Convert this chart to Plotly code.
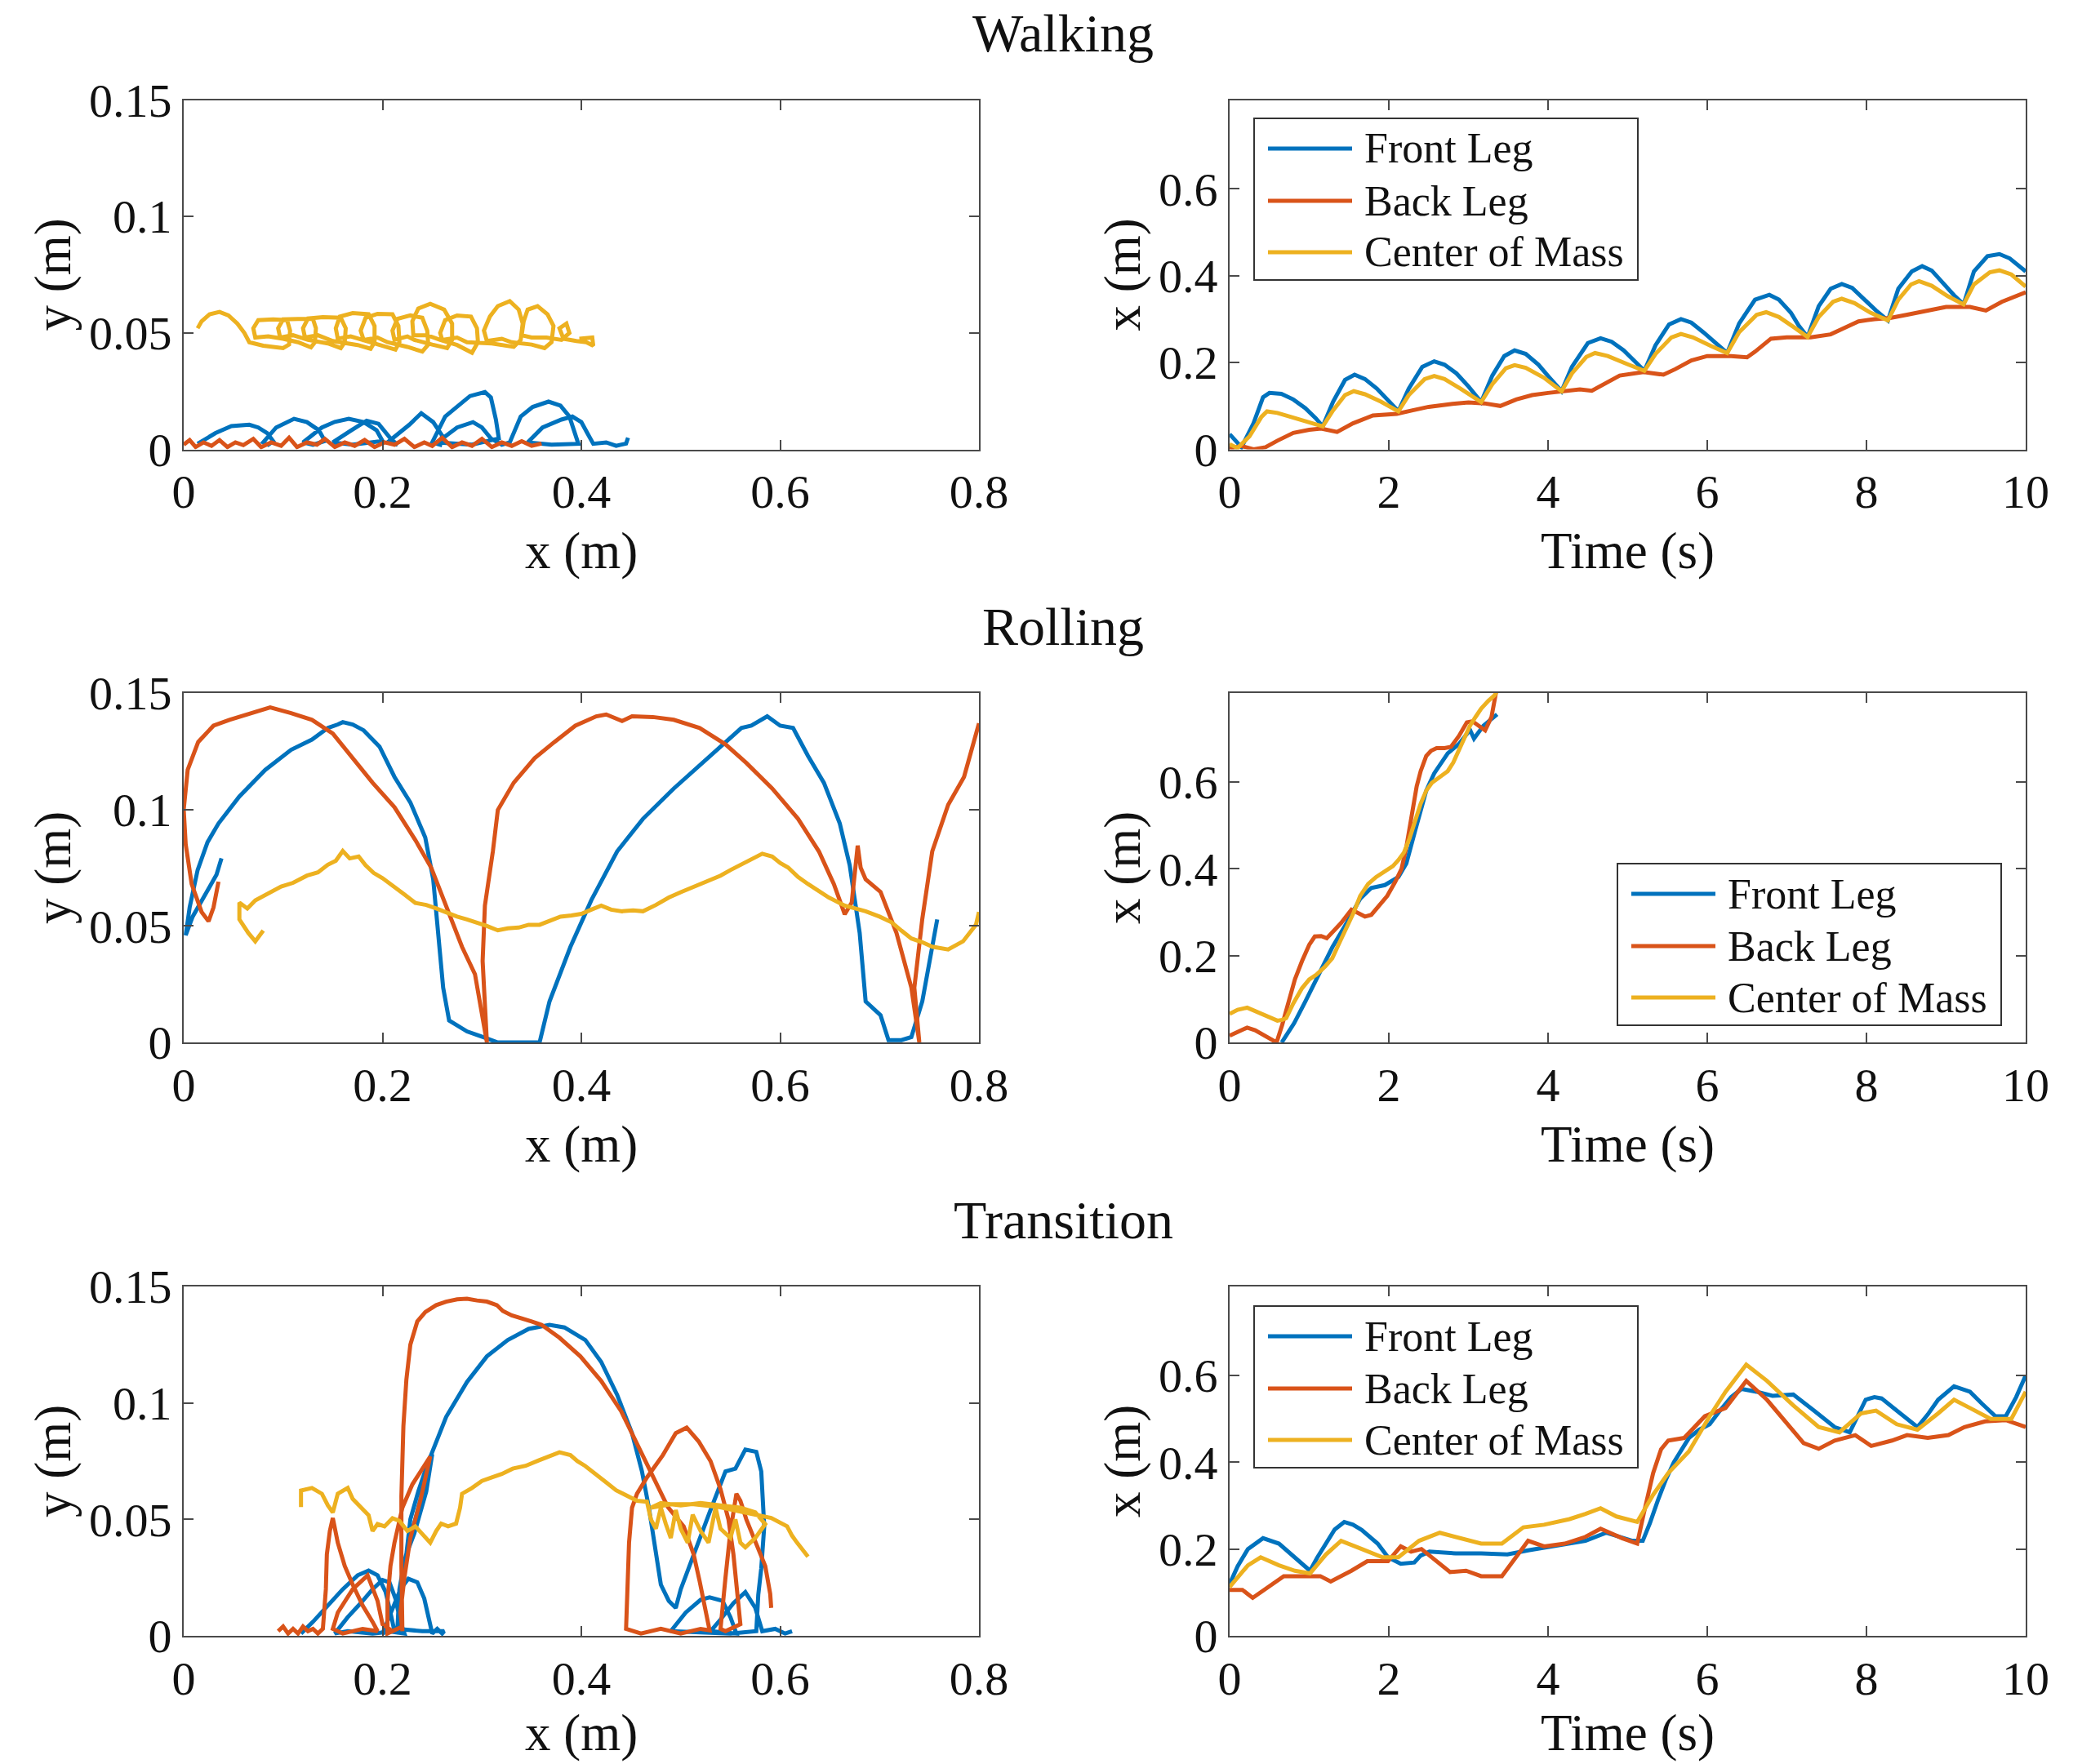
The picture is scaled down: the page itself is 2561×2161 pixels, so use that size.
import plotly.graph_objects as go

# ---------------- data ----------------
SERIES = ["Front Leg", "Back Leg", "Center of Mass"]
COLORS = ["#0072BD", "#D95319", "#EDB120"]
ROW_TITLES = ["Walking", "Rolling", "Transition"]

XY_XTICKS = [0, 0.2, 0.4, 0.6, 0.8]
XY_XTICKTEXT = ["0", "0.2", "0.4", "0.6", "0.8"]
XY_YTICKS = [0, 0.05, 0.1, 0.15]
XY_YTICKTEXT = ["0", "0.05", "0.1", "0.15"]
T_XTICKS = [0, 2, 4, 6, 8, 10]
T_XTICKTEXT = ["0", "2", "4", "6", "8", "10"]
T_YTICKS = [0, 0.2, 0.4, 0.6]
T_YTICKTEXT = ["0", "0.2", "0.4", "0.6"]

# --- Walking: y vs x trajectories
WALK_XY_FRONT = [
    (0.014, 0.0024), (0.032, 0.007), (0.048, 0.010), (0.066, 0.0106), (0.075, 0.0094), (0.084, 0.007), (0.09, 0.0035),
    (0.085, 0.002), (0.08, 0.003),
    (0.093, 0.0094), (0.111, 0.0131), (0.124, 0.0117), (0.136, 0.0082), (0.142, 0.0036),
    (0.13, 0.002), (0.12, 0.003),
    (0.139, 0.0094), (0.152, 0.0118), (0.166, 0.0131), (0.181, 0.0117), (0.194, 0.0082), (0.2, 0.0036),
    (0.17, 0.002), (0.15, 0.003),
    (0.168, 0.008), (0.184, 0.0123), (0.196, 0.011), (0.208, 0.0047),
    (0.215, 0.002), (0.205, 0.003),
    (0.227, 0.0106), (0.239, 0.0155), (0.251, 0.0117), (0.26, 0.0059),
    (0.258, 0.002), (0.25, 0.003),
    (0.263, 0.0141), (0.276, 0.0188), (0.288, 0.0229), (0.303, 0.0246), (0.309, 0.0223), (0.314, 0.0129), (0.317, 0.0047),
    (0.29, 0.002), (0.255, 0.003),
    (0.275, 0.0094), (0.291, 0.0117), (0.3, 0.0094), (0.309, 0.0047),
    (0.32, 0.002), (0.328, 0.003),
    (0.339, 0.0141), (0.351, 0.0182), (0.367, 0.0205), (0.379, 0.0188), (0.388, 0.0141), (0.394, 0.0071), (0.397, 0.0024),
    (0.37, 0.002), (0.346, 0.003),
    (0.361, 0.0094), (0.38, 0.0128), (0.391, 0.0141), (0.4, 0.0117), (0.406, 0.007), (0.412, 0.0024),
    (0.425, 0.003), (0.435, 0.0015), (0.445, 0.0025), (0.447, 0.005),
]
WALK_XY_BACK = [
    (0.0, 0.002), (0.006, 0.004), (0.012, 0.001), (0.02, 0.003), (0.028, 0.0015), (0.036, 0.004), (0.044, 0.001),
    (0.052, 0.003), (0.06, 0.0018), (0.07, 0.0045), (0.078, 0.001), (0.088, 0.003), (0.098, 0.0015), (0.106, 0.005),
    (0.114, 0.001), (0.124, 0.003), (0.134, 0.002), (0.142, 0.0045), (0.152, 0.001), (0.162, 0.003), (0.172, 0.0015),
    (0.182, 0.004), (0.192, 0.001), (0.202, 0.003), (0.212, 0.002), (0.222, 0.0045), (0.232, 0.001), (0.242, 0.003),
    (0.25, 0.0015), (0.26, 0.005), (0.27, 0.001), (0.28, 0.003), (0.29, 0.0015), (0.3, 0.0045), (0.31, 0.001),
    (0.32, 0.003), (0.33, 0.0015), (0.34, 0.0035), (0.35, 0.0015), (0.36, 0.0025),
]
WALK_XY_COM = [
    (0.014, 0.052), (0.018, 0.055), (0.026, 0.058), (0.036, 0.059), (0.045, 0.0575), (0.054, 0.054), (0.061, 0.05), (0.066, 0.046),
    (0.08, 0.0445), (0.1, 0.0435), (0.106, 0.045), (0.107, 0.051), (0.104, 0.0555), (0.09, 0.0558), (0.075, 0.0555), (0.07, 0.052), (0.072, 0.048), (0.085, 0.0485),
    (0.1, 0.0475), (0.115, 0.046), (0.128, 0.0438), (0.132, 0.046), (0.133, 0.052), (0.13, 0.056), (0.115, 0.056), (0.1, 0.0558), (0.095, 0.052), (0.097, 0.048), (0.11, 0.049),
    (0.125, 0.047), (0.145, 0.0455), (0.158, 0.0435), (0.162, 0.046), (0.163, 0.052), (0.158, 0.0565), (0.14, 0.0568), (0.125, 0.0562), (0.12, 0.052), (0.122, 0.048), (0.135, 0.049),
    (0.15, 0.0465), (0.175, 0.0448), (0.188, 0.0432), (0.192, 0.046), (0.192, 0.053), (0.186, 0.058), (0.17, 0.0585), (0.157, 0.057), (0.153, 0.052), (0.155, 0.0475), (0.168, 0.0485),
    (0.18, 0.047), (0.2, 0.0445), (0.213, 0.0428), (0.217, 0.046), (0.216, 0.053), (0.21, 0.058), (0.195, 0.0582), (0.183, 0.0565), (0.178, 0.051), (0.181, 0.047), (0.195, 0.048),
    (0.205, 0.046), (0.225, 0.044), (0.24, 0.042), (0.246, 0.045), (0.245, 0.051), (0.24, 0.0565), (0.228, 0.0575), (0.215, 0.056), (0.21, 0.051), (0.212, 0.047), (0.225, 0.0485),
    (0.232, 0.047), (0.25, 0.045), (0.265, 0.0435), (0.27, 0.047), (0.27, 0.054), (0.262, 0.06), (0.248, 0.0625), (0.236, 0.0605), (0.23, 0.055), (0.231, 0.049), (0.245, 0.049),
    (0.258, 0.047), (0.275, 0.0448), (0.29, 0.0415), (0.296, 0.046), (0.295, 0.052), (0.289, 0.057), (0.275, 0.0575), (0.263, 0.0555), (0.258, 0.05), (0.26, 0.047), (0.275, 0.048),
    (0.285, 0.046), (0.31, 0.0455), (0.332, 0.044), (0.339, 0.047), (0.341, 0.054), (0.337, 0.06), (0.328, 0.0636), (0.316, 0.0615), (0.308, 0.057), (0.302, 0.051), (0.305, 0.0465), (0.32, 0.0475),
    (0.33, 0.046), (0.35, 0.045), (0.363, 0.0435), (0.37, 0.046), (0.372, 0.053), (0.366, 0.058), (0.356, 0.0615), (0.346, 0.06), (0.342, 0.055), (0.34, 0.049), (0.35, 0.048),
    (0.365, 0.048), (0.38, 0.047), (0.388, 0.05), (0.385, 0.054), (0.378, 0.052), (0.382, 0.0475), (0.395, 0.0465), (0.405, 0.046), (0.412, 0.0445), (0.411, 0.048), (0.398, 0.0475),
]

# --- Walking: x vs time
WALK_T_FRONT = [
    (0, 0.035), (0.15, 0.005), (0.3, 0.06), (0.42, 0.12), (0.5, 0.13), (0.65, 0.128), (0.8, 0.115), (0.95, 0.095), (1.08, 0.072), (1.17, 0.053),
    (1.3, 0.11), (1.45, 0.16), (1.57, 0.172), (1.7, 0.162), (1.85, 0.14), (2.0, 0.112), (2.12, 0.088),
    (2.25, 0.14), (2.42, 0.19), (2.57, 0.203), (2.7, 0.195), (2.85, 0.175), (3.0, 0.145), (3.16, 0.109),
    (3.3, 0.17), (3.45, 0.215), (3.58, 0.228), (3.72, 0.22), (3.88, 0.195), (4.02, 0.165), (4.17, 0.134),
    (4.3, 0.19), (4.5, 0.245), (4.66, 0.256), (4.8, 0.248), (4.95, 0.228), (5.08, 0.205), (5.21, 0.181),
    (5.35, 0.24), (5.52, 0.288), (5.67, 0.300), (5.8, 0.292), (5.95, 0.27), (6.1, 0.245), (6.25, 0.222),
    (6.4, 0.29), (6.6, 0.345), (6.78, 0.356), (6.9, 0.345), (7.05, 0.315), (7.15, 0.285), (7.26, 0.259),
    (7.4, 0.33), (7.55, 0.37), (7.69, 0.381), (7.82, 0.372), (7.97, 0.345), (8.12, 0.32), (8.27, 0.297),
    (8.4, 0.37), (8.57, 0.41), (8.70, 0.422), (8.82, 0.412), (8.95, 0.385), (9.1, 0.355), (9.22, 0.334),
    (9.35, 0.41), (9.52, 0.445), (9.67, 0.45), (9.8, 0.44), (9.9, 0.425), (10.0, 0.41),
]
WALK_T_BACK = [
    (0, 0.002), (0.15, 0.008), (0.3, 0.0), (0.45, 0.005), (0.6, 0.02), (0.8, 0.038), (1.0, 0.045), (1.15, 0.048), (1.35, 0.04),
    (1.55, 0.06), (1.8, 0.078), (2.1, 0.082), (2.3, 0.09), (2.5, 0.098), (2.8, 0.105), (3.0, 0.108), (3.2, 0.106), (3.4, 0.1),
    (3.6, 0.115), (3.8, 0.125), (4.0, 0.13), (4.2, 0.133), (4.4, 0.138), (4.55, 0.135), (4.7, 0.15), (4.9, 0.17), (5.2, 0.178),
    (5.45, 0.172), (5.6, 0.185), (5.8, 0.205), (6.0, 0.215), (6.3, 0.215), (6.5, 0.212), (6.6, 0.225), (6.8, 0.255), (7.0, 0.258),
    (7.3, 0.258), (7.55, 0.265), (7.7, 0.278), (7.9, 0.295), (8.1, 0.3), (8.3, 0.303), (8.5, 0.31), (8.8, 0.322), (9.0, 0.328),
    (9.3, 0.328), (9.5, 0.32), (9.7, 0.34), (9.85, 0.352), (10, 0.362),
]
WALK_T_COM = [
    (0, 0.012), (0.1, 0.003), (0.25, 0.03), (0.4, 0.075), (0.47, 0.0875), (0.6, 0.084), (0.8, 0.073), (1.0, 0.062), (1.17, 0.053),
    (1.3, 0.09), (1.45, 0.125), (1.56, 0.134), (1.7, 0.127), (1.9, 0.11), (2.12, 0.0875),
    (2.25, 0.125), (2.45, 0.162), (2.57, 0.169), (2.7, 0.162), (2.9, 0.14), (3.16, 0.109),
    (3.3, 0.15), (3.47, 0.187), (3.58, 0.194), (3.72, 0.188), (3.95, 0.165), (4.17, 0.134),
    (4.3, 0.175), (4.48, 0.213), (4.59, 0.222), (4.75, 0.215), (5.0, 0.196), (5.21, 0.181),
    (5.35, 0.22), (5.55, 0.258), (5.67, 0.266), (5.82, 0.258), (6.05, 0.238), (6.25, 0.222),
    (6.4, 0.27), (6.62, 0.31), (6.74, 0.316), (6.9, 0.305), (7.1, 0.28), (7.26, 0.259),
    (7.4, 0.305), (7.58, 0.34), (7.69, 0.347), (7.85, 0.337), (8.05, 0.315), (8.27, 0.297),
    (8.4, 0.345), (8.56, 0.38), (8.66, 0.3875), (8.82, 0.377), (9.02, 0.353), (9.22, 0.334),
    (9.35, 0.38), (9.55, 0.408), (9.67, 0.4125), (9.82, 0.403), (10.0, 0.375),
]

# --- Rolling: y vs x trajectories
ROLL_XY_FRONT = [
    (0.038, 0.079), (0.033, 0.072), (0.025, 0.066), (0.017, 0.06), (0.009, 0.054), (0.002, 0.046),
    (0.006, 0.058), (0.014, 0.074), (0.024, 0.086), (0.035, 0.094), (0.056, 0.1056), (0.082, 0.117), (0.108, 0.1256),
    (0.129, 0.130), (0.145, 0.135), (0.155, 0.1365), (0.16, 0.1375), (0.17, 0.1365), (0.181, 0.134), (0.197, 0.127),
    (0.212, 0.114), (0.228, 0.103), (0.243, 0.088), (0.251, 0.070), (0.256, 0.047), (0.261, 0.0235), (0.267, 0.0094),
    (0.285, 0.0047), (0.301, 0.0023), (0.316, 0.0), (0.358, 0.0), (0.368, 0.0176), (0.389, 0.041), (0.41, 0.061),
    (0.436, 0.082), (0.462, 0.096), (0.493, 0.109), (0.53, 0.123), (0.561, 0.135), (0.571, 0.136), (0.587, 0.14),
    (0.6, 0.136), (0.613, 0.135), (0.628, 0.123), (0.644, 0.1115), (0.66, 0.094), (0.67, 0.076), (0.68, 0.047),
    (0.686, 0.0176), (0.701, 0.0117), (0.709, 0.001), (0.722, 0.001), (0.732, 0.0023), (0.743, 0.0176), (0.758, 0.0528),
]
ROLL_XY_BACK = [
    (0.035, 0.069), (0.03, 0.058), (0.025, 0.052), (0.018, 0.056), (0.008, 0.068), (0.002, 0.085), (0.0, 0.1), (0.004, 0.117),
    (0.0146, 0.129), (0.03, 0.136), (0.046, 0.1385), (0.067, 0.1414), (0.087, 0.1438), (0.108, 0.1414), (0.129, 0.1385),
    (0.15, 0.1326), (0.17, 0.122), (0.19, 0.1115), (0.212, 0.101), (0.233, 0.0869), (0.249, 0.075), (0.264, 0.0587),
    (0.28, 0.041), (0.293, 0.0293), (0.3, 0.0117), (0.305, 0.0),
    (0.3007, 0.035), (0.303, 0.0587), (0.311, 0.082), (0.316, 0.0998), (0.332, 0.1115), (0.353, 0.122), (0.373, 0.129),
    (0.394, 0.136), (0.415, 0.140), (0.425, 0.1408), (0.441, 0.138), (0.451, 0.140), (0.472, 0.1397), (0.493, 0.1385),
    (0.519, 0.135), (0.545, 0.128), (0.566, 0.12), (0.592, 0.109), (0.618, 0.096), (0.639, 0.082), (0.654, 0.068),
    (0.665, 0.055), (0.672, 0.06), (0.678, 0.0845), (0.681, 0.075), (0.686, 0.07), (0.701, 0.0646), (0.717, 0.047),
    (0.732, 0.0235), (0.74, 0.0),
    (0.735, 0.0235), (0.743, 0.053), (0.753, 0.082), (0.769, 0.102), (0.785, 0.114), (0.8, 0.137),
]
ROLL_XY_COM = [
    (0.08, 0.048), (0.072, 0.0434), (0.065, 0.047), (0.061, 0.0493), (0.056, 0.0528), (0.056, 0.06), (0.064, 0.0575),
    (0.072, 0.061), (0.085, 0.064), (0.098, 0.0669), (0.11, 0.0685), (0.124, 0.0716), (0.135, 0.073), (0.145, 0.0763),
    (0.153, 0.078), (0.16, 0.0822), (0.167, 0.079), (0.176, 0.0798), (0.183, 0.076), (0.191, 0.0728), (0.2, 0.0705),
    (0.212, 0.0669), (0.222, 0.0635), (0.233, 0.0599), (0.244, 0.059), (0.254, 0.0575), (0.265, 0.0555), (0.275, 0.054),
    (0.285, 0.0528), (0.295, 0.0516), (0.305, 0.05), (0.316, 0.0481), (0.326, 0.049), (0.337, 0.0493), (0.347, 0.0505),
    (0.358, 0.0505), (0.368, 0.052), (0.379, 0.054), (0.39, 0.0545), (0.4, 0.0552), (0.41, 0.057), (0.42, 0.0587),
    (0.43, 0.057), (0.441, 0.0563), (0.452, 0.0567), (0.462, 0.0563), (0.475, 0.059), (0.488, 0.0622), (0.5, 0.0645),
    (0.514, 0.0669), (0.527, 0.069), (0.54, 0.0716), (0.55, 0.074), (0.561, 0.0763), (0.572, 0.0785), (0.582, 0.081),
    (0.592, 0.0798), (0.6, 0.077), (0.608, 0.0751), (0.618, 0.071), (0.628, 0.068), (0.638, 0.065), (0.649, 0.0622),
    (0.665, 0.0587), (0.676, 0.0575), (0.686, 0.0563), (0.7, 0.054), (0.712, 0.0516), (0.722, 0.048), (0.732, 0.0446),
    (0.743, 0.043), (0.753, 0.0411), (0.769, 0.0399), (0.784, 0.0434), (0.797, 0.0505), (0.8, 0.056),
]

# --- Rolling: x vs time
ROLL_T_FRONT = [
    (0.655, 0.0), (0.81, 0.044), (0.95, 0.094), (1.12, 0.156), (1.29, 0.219), (1.47, 0.275), (1.64, 0.331), (1.78, 0.356),
    (1.95, 0.3625), (2.12, 0.381), (2.22, 0.4125), (2.33, 0.4875), (2.47, 0.58), (2.57, 0.62), (2.74, 0.666), (2.88, 0.6875),
    (3.02, 0.72), (3.07, 0.70), (3.19, 0.73), (3.36, 0.756),
]
ROLL_T_BACK = [
    (0, 0.0156), (0.1, 0.025), (0.22, 0.034), (0.32, 0.028), (0.4, 0.019), (0.5, 0.008), (0.59, 0.0), (0.66, 0.04), (0.74, 0.094),
    (0.82, 0.145), (0.91, 0.1875), (1.0, 0.225), (1.07, 0.244), (1.15, 0.245), (1.22, 0.24), (1.3, 0.255), (1.4, 0.275),
    (1.53, 0.306), (1.6, 0.3), (1.7, 0.29), (1.78, 0.294), (1.88, 0.315), (1.98, 0.3375), (2.08, 0.37), (2.16, 0.4),
    (2.22, 0.45), (2.29, 0.519), (2.35, 0.59), (2.4, 0.625), (2.47, 0.66), (2.53, 0.672), (2.6, 0.678), (2.7, 0.678),
    (2.78, 0.681), (2.88, 0.706), (2.98, 0.7375), (3.05, 0.74), (3.12, 0.731), (3.21, 0.719), (3.29, 0.75), (3.34, 0.80),
    (3.36, 0.82),
]
ROLL_T_COM = [
    (0, 0.0656), (0.1, 0.075), (0.22, 0.08), (0.32, 0.072), (0.43, 0.0625), (0.52, 0.055), (0.6, 0.05), (0.66, 0.052),
    (0.71, 0.056), (0.8, 0.09), (0.91, 0.125), (1.0, 0.145), (1.09, 0.156), (1.2, 0.175), (1.29, 0.194), (1.38, 0.23),
    (1.47, 0.2625), (1.56, 0.3), (1.64, 0.3375), (1.74, 0.365), (1.84, 0.381), (1.95, 0.395), (2.05, 0.406), (2.12, 0.42),
    (2.19, 0.4375), (2.26, 0.47), (2.33, 0.5125), (2.4, 0.55), (2.47, 0.58), (2.54, 0.598), (2.6, 0.606), (2.67, 0.615),
    (2.74, 0.625), (2.81, 0.645), (2.88, 0.675), (2.95, 0.705), (3.02, 0.73), (3.09, 0.75), (3.16, 0.769), (3.25, 0.787),
    (3.33, 0.8), (3.36, 0.81),
]

# --- Transition: y vs x trajectories
TRANS_XY_FRONT = [
    (0.118, 0.001), (0.13, 0.006), (0.145, 0.013), (0.16, 0.02), (0.175, 0.026), (0.186, 0.028), (0.195, 0.026), (0.203, 0.019),
    (0.208, 0.01), (0.212, 0.002),
    (0.19, 0.001), (0.165, 0.002), (0.152, 0.001),
    (0.165, 0.008), (0.178, 0.014), (0.19, 0.02), (0.2, 0.024), (0.207, 0.023), (0.213, 0.016), (0.218, 0.006), (0.222, 0.001),
    (0.205, 0.002), (0.2, 0.001),
    (0.21, 0.012), (0.218, 0.02), (0.226, 0.0245), (0.235, 0.023), (0.242, 0.016), (0.247, 0.006), (0.25, 0.001), (0.255, 0.003),
    (0.26, 0.001), (0.262, 0.002),
    (0.24, 0.002), (0.215, 0.003),
    (0.217, 0.02), (0.222, 0.032), (0.232, 0.048), (0.242, 0.064), (0.25, 0.078), (0.244, 0.062), (0.232, 0.044), (0.224, 0.035),
    (0.228, 0.05), (0.236, 0.062), (0.245, 0.0735), (0.264, 0.094), (0.285, 0.109), (0.305, 0.12), (0.326, 0.127), (0.347, 0.1318),
    (0.368, 0.1335), (0.383, 0.1324), (0.404, 0.127), (0.42, 0.1176), (0.436, 0.1035), (0.451, 0.087), (0.461, 0.0706),
    (0.468, 0.055), (0.474, 0.038), (0.48, 0.022), (0.488, 0.015), (0.495, 0.012), (0.5, 0.02),
    (0.513, 0.035), (0.529, 0.053), (0.545, 0.0706), (0.555, 0.0718), (0.565, 0.08), (0.576, 0.079), (0.581, 0.0706),
    (0.584, 0.047), (0.581, 0.029), (0.578, 0.0176), (0.576, 0.002),
    (0.55, 0.001), (0.49, 0.002),
    (0.505, 0.01), (0.52, 0.0155), (0.529, 0.0165), (0.542, 0.015), (0.55, 0.008), (0.556, 0.001),
    (0.53, 0.002),
    (0.54, 0.007), (0.553, 0.014), (0.565, 0.0188), (0.575, 0.012), (0.582, 0.002),
    (0.595, 0.003), (0.605, 0.001), (0.612, 0.002),
]
TRANS_XY_BACK = [
    (0.095, 0.002), (0.1, 0.004), (0.105, 0.001), (0.11, 0.003), (0.115, 0.001), (0.12, 0.004), (0.125, 0.002), (0.13, 0.003),
    (0.135, 0.001), (0.14, 0.003),
    (0.143, 0.02), (0.144, 0.035), (0.147, 0.045), (0.15, 0.0506),
    (0.155, 0.04), (0.162, 0.03), (0.17, 0.022), (0.18, 0.013), (0.19, 0.006), (0.195, 0.002),
    (0.18, 0.003), (0.16, 0.001), (0.15, 0.003),
    (0.155, 0.01), (0.17, 0.02), (0.185, 0.026), (0.195, 0.015), (0.2, 0.005),
    (0.21, 0.002), (0.22, 0.004), (0.205, 0.001),
    (0.205, 0.015), (0.208, 0.03), (0.212, 0.04), (0.22, 0.055), (0.23, 0.065), (0.24, 0.072), (0.248, 0.077),
    (0.238, 0.058), (0.228, 0.042), (0.222, 0.025), (0.218, 0.01), (0.22, 0.002),
    (0.219, 0.03), (0.219, 0.06), (0.221, 0.09), (0.224, 0.11), (0.228, 0.125), (0.235, 0.135), (0.243, 0.139), (0.254, 0.142),
    (0.264, 0.1435), (0.275, 0.1445), (0.285, 0.1447), (0.295, 0.144), (0.305, 0.1435), (0.315, 0.142), (0.321, 0.1395),
    (0.33, 0.1376), (0.34, 0.1365), (0.35, 0.135), (0.36, 0.1335), (0.378, 0.128), (0.399, 0.12), (0.42, 0.1094),
    (0.44, 0.0965), (0.456, 0.0824), (0.466, 0.073), (0.477, 0.0635), (0.487, 0.0553), (0.503, 0.047), (0.513, 0.035),
    (0.519, 0.0235), (0.524, 0.0118), (0.529, 0.0024),
    (0.52, 0.003), (0.5, 0.001), (0.48, 0.003), (0.46, 0.001), (0.445, 0.003),
    (0.446, 0.02), (0.448, 0.04), (0.451, 0.055), (0.456, 0.061), (0.466, 0.068), (0.482, 0.0776), (0.495, 0.087),
    (0.506, 0.0894), (0.518, 0.0835), (0.53, 0.075), (0.54, 0.063), (0.548, 0.05), (0.553, 0.035), (0.556, 0.02), (0.56, 0.005),
    (0.545, 0.002), (0.54, 0.003),
    (0.545, 0.025), (0.55, 0.045), (0.556, 0.061), (0.56, 0.058), (0.566, 0.05), (0.575, 0.04), (0.585, 0.03), (0.59, 0.018),
    (0.591, 0.012),
]
TRANS_XY_COM = [
    (0.118, 0.0553), (0.118, 0.0624), (0.129, 0.0635), (0.139, 0.061), (0.145, 0.056), (0.15, 0.053), (0.155, 0.061),
    (0.165, 0.0635), (0.17, 0.0588), (0.178, 0.055), (0.186, 0.0518), (0.19, 0.045), (0.195, 0.048), (0.202, 0.047),
    (0.21, 0.0505), (0.217, 0.0494), (0.225, 0.045), (0.233, 0.047), (0.24, 0.044), (0.248, 0.04), (0.254, 0.045),
    (0.259, 0.0482), (0.266, 0.047), (0.274, 0.0482), (0.278, 0.055), (0.28, 0.061), (0.29, 0.0635), (0.3, 0.0665),
    (0.31, 0.068), (0.32, 0.0695), (0.331, 0.0718), (0.344, 0.073), (0.357, 0.0753), (0.368, 0.077), (0.378, 0.0788),
    (0.389, 0.0776), (0.396, 0.075), (0.404, 0.0729), (0.415, 0.069), (0.425, 0.0659), (0.435, 0.0625), (0.446, 0.06),
    (0.456, 0.058), (0.466, 0.0576),
    (0.47, 0.05), (0.475, 0.046), (0.48, 0.055), (0.485, 0.048), (0.49, 0.042), (0.495, 0.054), (0.5, 0.046), (0.507, 0.04),
    (0.512, 0.052), (0.52, 0.045), (0.528, 0.04), (0.535, 0.055), (0.54, 0.046), (0.55, 0.042), (0.555, 0.05), (0.56, 0.04),
    (0.565, 0.038), (0.575, 0.042), (0.585, 0.048), (0.575, 0.053), (0.56, 0.055), (0.54, 0.056), (0.52, 0.057), (0.5, 0.056),
    (0.48, 0.057), (0.47, 0.055),
    (0.49, 0.0565), (0.513, 0.0565), (0.539, 0.0553), (0.565, 0.0529), (0.591, 0.0506), (0.607, 0.047), (0.612, 0.043),
    (0.617, 0.04), (0.622, 0.037), (0.628, 0.034),
]

# --- Transition: x vs time
TRANS_T_FRONT = [
    (0, 0.119), (0.1, 0.16), (0.23, 0.2), (0.42, 0.225), (0.62, 0.2125), (0.82, 0.181), (1.01, 0.15), (1.1, 0.18), (1.21, 0.2125),
    (1.32, 0.245), (1.44, 0.2625), (1.55, 0.256), (1.66, 0.244), (1.86, 0.2125), (1.99, 0.181), (2.15, 0.166), (2.32, 0.169),
    (2.4, 0.185), (2.51, 0.194), (2.84, 0.19), (3.16, 0.19), (3.49, 0.1875), (3.75, 0.197), (4.08, 0.206), (4.47, 0.219),
    (4.73, 0.2375), (4.9, 0.228), (5.06, 0.219), (5.19, 0.219), (5.28, 0.26), (5.38, 0.3125), (5.48, 0.36), (5.58, 0.4),
    (5.77, 0.456), (5.9, 0.475), (6.03, 0.4875), (6.16, 0.519), (6.3, 0.55), (6.43, 0.569), (6.62, 0.5625), (6.82, 0.553),
    (7.08, 0.556), (7.34, 0.519), (7.6, 0.481), (7.79, 0.469), (7.9, 0.51), (7.99, 0.544), (8.1, 0.55), (8.19, 0.547),
    (8.38, 0.519), (8.64, 0.481), (8.77, 0.51), (8.9, 0.544), (9.1, 0.575), (9.3, 0.5625), (9.45, 0.535), (9.62, 0.506),
    (9.75, 0.506), (9.88, 0.55), (10, 0.6),
]
TRANS_T_BACK = [
    (0, 0.106), (0.16, 0.106), (0.29, 0.0875), (0.49, 0.1125), (0.68, 0.1375), (0.95, 0.1375), (1.14, 0.1375), (1.27, 0.125),
    (1.53, 0.15), (1.73, 0.172), (1.99, 0.172), (2.15, 0.206), (2.28, 0.194), (2.41, 0.2), (2.58, 0.175), (2.77, 0.147),
    (2.97, 0.15), (3.16, 0.1375), (3.42, 0.1375), (3.75, 0.219), (3.95, 0.206), (4.21, 0.2125), (4.47, 0.228), (4.66, 0.247),
    (4.93, 0.225), (5.12, 0.2125), (5.2, 0.28), (5.32, 0.375), (5.42, 0.43), (5.51, 0.45), (5.71, 0.456), (5.97, 0.506),
    (6.23, 0.525), (6.49, 0.5875), (6.75, 0.544), (7.01, 0.4875), (7.21, 0.444), (7.4, 0.431), (7.6, 0.45), (7.86, 0.4625),
    (8.06, 0.4375), (8.32, 0.45), (8.51, 0.4625), (8.77, 0.456), (9.03, 0.4625), (9.23, 0.481), (9.49, 0.494), (9.75, 0.497),
    (10, 0.481),
]
TRANS_T_COM = [
    (0, 0.1125), (0.23, 0.1625), (0.39, 0.181), (0.62, 0.1625), (0.82, 0.15), (1.01, 0.144), (1.21, 0.1875), (1.4, 0.219),
    (1.66, 0.2), (1.92, 0.181), (2.12, 0.181), (2.38, 0.219), (2.64, 0.2375), (2.9, 0.225), (3.16, 0.2125), (3.42, 0.2125),
    (3.69, 0.25), (3.95, 0.256), (4.27, 0.269), (4.47, 0.281), (4.66, 0.294), (4.86, 0.275), (5.12, 0.2625), (5.32, 0.325),
    (5.51, 0.375), (5.77, 0.425), (6.03, 0.506), (6.23, 0.5625), (6.49, 0.625), (6.75, 0.5875), (7.08, 0.531), (7.4, 0.481),
    (7.66, 0.469), (7.93, 0.5125), (8.12, 0.519), (8.38, 0.4875), (8.64, 0.475), (8.9, 0.5125), (9.1, 0.544), (9.3, 0.525),
    (9.56, 0.5), (9.82, 0.5), (10, 0.5625),
]

ROWS = [
    (ROW_TITLES[0], [WALK_XY_FRONT, WALK_XY_BACK, WALK_XY_COM], [WALK_T_FRONT, WALK_T_BACK, WALK_T_COM]),
    (ROW_TITLES[1], [ROLL_XY_FRONT, ROLL_XY_BACK, ROLL_XY_COM], [ROLL_T_FRONT, ROLL_T_BACK, ROLL_T_COM]),
    (ROW_TITLES[2], [TRANS_XY_FRONT, TRANS_XY_BACK, TRANS_XY_COM], [TRANS_T_FRONT, TRANS_T_BACK, TRANS_T_COM]),
]

# ---------------- layout / styling ----------------
W, H = 2561, 2161
FONT = "Liberation Serif, Times New Roman, Times, serif"
TXT = "#111111"
AXC = "#4a4a4a"
LW = 5
LEFT_PX = (225, 1199)
RIGHT_PX = (1506, 2481)
ROW_TOP_PX = [122.5, 849, 1576]
ROW_H_PX = 428
XLABEL_OFF_PX = [124.5, 124.5, 119]
LEGEND_BOX_PX = [(1536, 145), (1981, 1058), (1536, 1600)]   # top-left corners
LEGEND_W_PX, LEGEND_H_PX = 470, 198
LEGEND_ROW_OFF = [37, 101, 164]


def fx(p):
    return p / W


def fy(p):
    return 1 - p / H


def axis_style(rng, tickvals, ticktext, domain, anchor, is_y):
    return dict(
        domain=domain, anchor=anchor, range=rng, tickvals=tickvals, ticktext=ticktext,
        showline=True, linecolor=AXC, linewidth=2, mirror="ticks",
        ticks="inside", ticklen=12, tickwidth=2, tickcolor=AXC,
        showgrid=False, zeroline=False, automargin=False,
        tickfont=dict(family=FONT, size=58, color=TXT),
        ticklabelstandoff=1 if is_y else 0,
    )


fig = go.Figure()
annotations = []
shapes = []
layout = dict(
    template="none",
    width=W, height=H, margin=dict(l=0, r=0, t=0, b=0, pad=0, autoexpand=False),
    paper_bgcolor="white", plot_bgcolor="white", showlegend=False,
)

for r, (title, trajs, times) in enumerate(ROWS):
    top = ROW_TOP_PX[r]
    bot = top + ROW_H_PX
    ydom = [fy(bot), fy(top)]
    li, ri = 2 * r + 1, 2 * r + 2
    lx = "x" if li == 1 else f"x{li}"
    ly = "y" if li == 1 else f"y{li}"
    rx, ry = f"x{ri}", f"y{ri}"

    layout["xaxis" if li == 1 else f"xaxis{li}"] = axis_style(
        [0, 0.8], XY_XTICKS, XY_XTICKTEXT, [fx(LEFT_PX[0]), fx(LEFT_PX[1])], ly, False)
    layout["yaxis" if li == 1 else f"yaxis{li}"] = axis_style(
        [0, 0.15], XY_YTICKS, XY_YTICKTEXT, ydom, lx, True)
    layout[f"xaxis{ri}"] = axis_style(
        [0, 10], T_XTICKS, T_XTICKTEXT, [fx(RIGHT_PX[0]), fx(RIGHT_PX[1])], ry, False)
    layout[f"yaxis{ri}"] = axis_style(
        [0, 0.805], T_YTICKS, T_YTICKTEXT, ydom, rx, True)

    for name, color, traj in zip(SERIES, COLORS, trajs):
        fig.add_trace(go.Scatter(
            x=[p[0] for p in traj], y=[p[1] for p in traj], mode="lines",
            line=dict(color=color, width=LW), name=name, showlegend=False,
            xaxis=lx, yaxis=ly, hoverinfo="skip"))
    for name, color, ser in zip(SERIES, COLORS, times):
        fig.add_trace(go.Scatter(
            x=[p[0] for p in ser], y=[p[1] for p in ser], mode="lines",
            line=dict(color=color, width=LW), name=name, showlegend=False,
            xaxis=rx, yaxis=ry, hoverinfo="skip"))

    # legend box (drawn as a framed key inside the right panel)
    bx, by = LEGEND_BOX_PX[r]
    shapes.append(dict(type="rect", xref="paper", yref="paper",
                       x0=fx(bx), x1=fx(bx + LEGEND_W_PX), y0=fy(by + LEGEND_H_PX), y1=fy(by),
                       line=dict(color="#333333", width=2), fillcolor="white", layer="above"))
    for k, (name, color) in enumerate(zip(SERIES, COLORS)):
        yy = by + LEGEND_ROW_OFF[k]
        shapes.append(dict(type="line", xref="paper", yref="paper",
                           x0=fx(bx + 17), x1=fx(bx + 120), y0=fy(yy), y1=fy(yy),
                           line=dict(color=color, width=LW), layer="above"))
        annotations.append(dict(text=name, x=fx(bx + 133), y=fy(yy), xref="paper", yref="paper",
                                showarrow=False, xanchor="left", yanchor="middle",
                                font=dict(family=FONT, size=52, color=TXT)))

    # row title
    annotations.append(dict(text=title, x=fx(1302), y=fy(top - 81.5), xref="paper", yref="paper",
                            showarrow=False, xanchor="center", yanchor="middle",
                            font=dict(family=FONT, size=66, color=TXT)))
    # axis titles
    annotations.append(dict(text="x (m)", x=fx((LEFT_PX[0] + LEFT_PX[1]) / 2), y=fy(bot + XLABEL_OFF_PX[r]),
                            xref="paper", yref="paper", showarrow=False, xanchor="center", yanchor="middle",
                            font=dict(family=FONT, size=63, color=TXT)))
    annotations.append(dict(text="Time (s)", x=fx((RIGHT_PX[0] + RIGHT_PX[1]) / 2), y=fy(bot + XLABEL_OFF_PX[r]),
                            xref="paper", yref="paper", showarrow=False, xanchor="center", yanchor="middle",
                            font=dict(family=FONT, size=63, color=TXT)))
    annotations.append(dict(text="y (m)", x=fx(65), y=fy((top + bot) / 2), textangle=-90,
                            xref="paper", yref="paper", showarrow=False, xanchor="center", yanchor="middle",
                            font=dict(family=FONT, size=63, color=TXT)))
    annotations.append(dict(text="x (m)", x=fx(1375), y=fy((top + bot) / 2), textangle=-90,
                            xref="paper", yref="paper", showarrow=False, xanchor="center", yanchor="middle",
                            font=dict(family=FONT, size=63, color=TXT)))

layout["annotations"] = annotations
layout["shapes"] = shapes
fig.update_layout(**layout)
fig.write_html(
    "out.html",
    config={"displayModeBar": False},
    post_script="document.body.style.margin='0px';document.body.style.overflow='hidden';",
)
